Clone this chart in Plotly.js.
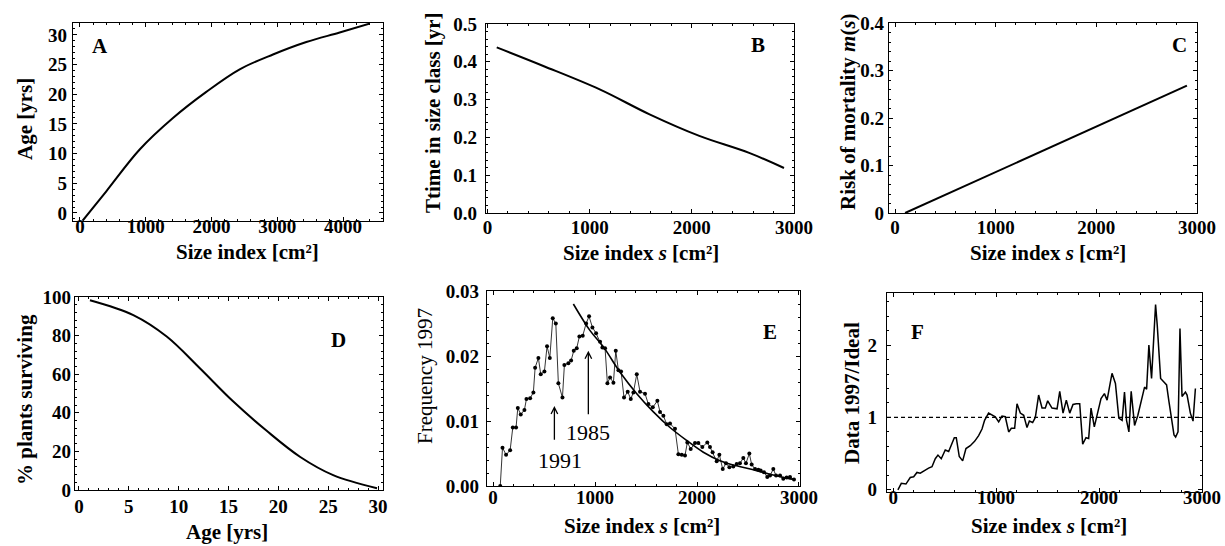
<!DOCTYPE html>
<html>
<head>
<meta charset="utf-8">
<script src="https://cdn.plot.ly/plotly-3.0.1.min.js"></script>
<style>html,body{margin:0;padding:0;background:#fff;}#chart{width:1225px;height:546px;}</style>
</head>
<body>
<div id="chart"></div>
<script>
// ---------- DATA ----------
// Panel A: age vs size
const A_size = [40, 400, 908, 1414, 1921, 2429, 2935, 3442, 3949, 4406];
const A_age  = [-1.3, 3.66, 10.7, 16.0, 20.4, 24.2, 26.7, 28.8, 30.4, 31.9];
// Panel B: time in size class
const B_size = [90, 546, 1098, 1586, 2073, 2561, 2902];
const B_time = [0.438, 0.389, 0.327, 0.261, 0.204, 0.159, 0.119];
// Panel C: risk of mortality
const C_size = [100, 1000, 2000, 2900];
const C_risk = [0, 0.086, 0.182, 0.268];
// Panel D: % plants surviving vs age
const D_age  = [1.1, 5.45, 8.8, 12.1, 15.4, 18.8, 22.2, 25.5, 29.9];
const D_surv = [98.3, 90.6, 79.5, 63.2, 46.2, 30.8, 17.1, 7.7, 0.9];
// Panel E: frequency 1997 (data) and ideal curve
const E_size = [70, 92, 127, 167, 193, 225, 242, 271, 307, 327, 363, 395, 412, 444, 467, 503, 529, 556, 585, 615,
  640, 680, 699, 738, 765, 791, 820, 846, 879, 912, 941, 974, 1010, 1049, 1072, 1098, 1121, 1147, 1180, 1203,
  1229, 1255, 1284, 1320, 1350, 1376, 1409, 1441, 1490, 1523, 1566, 1611, 1637, 1670, 1703, 1735, 1784, 1817,
  1850, 1882, 1905, 1938, 1980, 2013, 2052, 2101, 2127, 2153, 2193, 2219, 2252, 2284, 2317, 2356, 2389, 2421,
  2454, 2480, 2513, 2536, 2569, 2601, 2624, 2657, 2689, 2716, 2748, 2775, 2814, 2846, 2879, 2912, 2951];
const E_freq = [0, 0.0059, 0.0048, 0.0055, 0.0090, 0.0090, 0.0120, 0.0110, 0.0117, 0.0134, 0.0135, 0.0144, 0.0182,
  0.0197, 0.0172, 0.0176, 0.0215, 0.0197, 0.0258, 0.0250, 0.0158, 0.0136, 0.0186, 0.0189, 0.0193, 0.0208, 0.0212,
  0.0230, 0.0231, 0.0250, 0.0261, 0.0244, 0.0235, 0.0222, 0.0213, 0.0212, 0.0158, 0.0167, 0.0159, 0.0208, 0.0178,
  0.0176, 0.0136, 0.0145, 0.0134, 0.0144, 0.0172, 0.0145, 0.0142, 0.0126, 0.0121, 0.0131, 0.0114, 0.0108, 0.0095,
  0.0096, 0.0088, 0.0049, 0.0048, 0.0047, 0.0067, 0.0057, 0.0066, 0.0066, 0.0060, 0.0067, 0.0060, 0.0052, 0.0038,
  0.0048, 0.0026, 0.0035, 0.0029, 0.0030, 0.0034, 0.0035, 0.0043, 0.0035, 0.0050, 0.0033, 0.0026, 0.0025, 0.0024,
  0.0021, 0.0014, 0.0016, 0.0026, 0.0016, 0.0016, 0.0011, 0.0013, 0.0014, 0.0010];
const E_fit_size = [787, 951, 1082, 1245, 1409, 1572, 1735, 1899, 2062, 2225, 2389, 2552, 2716, 2912, 2960];
const E_fit_freq = [0.0280, 0.0239, 0.0214, 0.0175, 0.0142, 0.0114, 0.0090, 0.0070, 0.0052, 0.0039, 0.0031, 0.0025, 0.0018, 0.0011, 0.0010];
const E_labels = ['1991', '1985'];
const E_arrow_x = [601, 934];
const E_arrow_tail = [0.0069, 0.0108];
const E_arrow_tip = [0.0123, 0.0208];
// Panel F: data/ideal ratio
const F_size = [46, 79, 124, 166, 199, 231, 263, 305, 344, 377, 409, 435, 467, 506, 539, 594, 613, 642, 675, 707,
  749, 791, 830, 863, 888, 927, 960, 992, 1025, 1057, 1089, 1122, 1148, 1180, 1203, 1235, 1268, 1300, 1323, 1355,
  1381, 1413, 1446, 1478, 1501, 1543, 1592, 1618, 1650, 1682, 1715, 1747, 1779, 1812, 1841, 1873, 1899, 1922,
  1954, 1987, 2019, 2052, 2078, 2110, 2126, 2159, 2192, 2224, 2247, 2267, 2290, 2312, 2345, 2377, 2419, 2442,
  2462, 2484, 2510, 2549, 2565, 2598, 2630, 2656, 2679, 2728, 2744, 2767, 2786, 2806, 2839, 2855, 2887, 2913, 2936];
const F_ratio = [0, 0.09, 0.08, 0.17, 0.18, 0.24, 0.23, 0.27, 0.30, 0.32, 0.43, 0.48, 0.43, 0.55, 0.53, 0.72, 0.72,
  0.46, 0.40, 0.57, 0.61, 0.67, 0.75, 0.84, 0.96, 1.06, 1.03, 1.01, 0.94, 1.02, 1.01, 0.80, 0.85, 0.85, 1.19, 1.06,
  1.03, 0.86, 0.95, 0.93, 1.00, 1.31, 1.13, 1.13, 1.23, 1.13, 1.12, 1.36, 1.06, 1.24, 1.06, 1.18, 1.19, 1.19, 0.63,
  0.72, 0.71, 1.13, 0.87, 1.08, 1.26, 1.33, 1.24, 1.49, 1.61, 1.47, 0.99, 0.96, 1.35, 0.96, 0.80, 1.36, 0.89, 1.03,
  1.29, 1.42, 1.39, 2.00, 1.54, 2.56, 2.28, 1.54, 1.49, 1.45, 1.22, 0.76, 0.73, 0.80, 2.23, 1.29, 1.35, 1.31, 1.06,
  0.95, 1.40];
const F_ref_x = [-60, 3000];
const F_ref_y = [1, 1];
const panelLetters = ['A', 'B', 'C', 'D', 'E', 'F'];
const xTitles = ['Size index [cm²]', 'Size index <i>s</i> [cm²]', 'Size index <i>s</i> [cm²]',
  'Age [yrs]', 'Size index <i>s</i> [cm²]', 'Size index <i>s</i> [cm²]'];
const yTitles = ['Age [yrs]', 'Ttime in size class [yr]', 'Risk of mortality <i>m</i>(<i>s</i>)',
  '% plants surviving', 'Frequency 1997', 'Data 1997/Ideal'];

// ---------- LAYOUT ----------
const W = 1225, H = 546;
const boxes = [ // [left, right, top, bottom] in px
  [73, 383, 23, 221], [486, 794, 24, 213], [889, 1197, 23, 213],
  [75, 383, 297, 490], [487, 800, 291, 486], [887, 1202, 293, 492]
];
const TICK_FS = 19, TITLE_FS = 21;
const tickCenterY = [229, 230, 230, 509, 500, 500];          // desired label centres (px)
const yStandoff = [1, 4, 0, -1, 3, 5];
const xTitlePos = [[247, 252], [641, 253], [1048, 253], [227, 532], [642, 526], [1049, 526]];
const yTitlePos = [[25, 119], [433, 113], [848, 112], [25, 400], [425, 376], [852, 393]];
const letterPos = [[100, 46], [758, 45], [1179, 45], [338, 340], [770, 332], [917, 332]];

const FONT = '"Liberation Serif", "DejaVu Serif", serif';
const tickFont = {family: FONT, size: TICK_FS, color: '#000', weight: 'bold'};
const titleFont = {family: FONT, size: TITLE_FS, color: '#000', weight: 'bold'};

function axis(i, isX, range, dtick, extra) {
  const b = boxes[i];
  const dom = isX ? [b[0] / W, b[1] / W] : [1 - b[3] / H, 1 - b[2] / H];
  const ax = {
    domain: dom, range: range, dtick: dtick, tick0: 0,
    showgrid: false, zeroline: false, showline: true, linecolor: '#000', linewidth: 1.3,
    mirror: 'allticks', ticks: 'inside', ticklen: 4, tickwidth: 1, tickcolor: '#000',
    minor: {ticks: 'inside', ticklen: 2, tickwidth: 1, tickcolor: '#000', dtick: dtick / 5, showgrid: false},
    tickfont: tickFont, fixedrange: true,
    ticklabelstandoff: isX ? Math.round(tickCenterY[i] - (b[3] + 1 + TICK_FS)) : yStandoff[i]
  };
  ax.anchor = (isX ? 'y' : 'x') + (i === 0 ? '' : (i + 1));
  return Object.assign(ax, extra || {});
}

const layout = {
  width: W, height: H, margin: {l: 0, r: 0, t: 0, b: 0},
  paper_bgcolor: '#fff', plot_bgcolor: '#fff', showlegend: false,
  font: {family: FONT},
  xaxis:  axis(0, true, [-106, 4608], 1000),
  yaxis:  axis(0, false, [-1.35, 32], 5),
  xaxis2: axis(1, true, [-15, 3000], 1000),
  yaxis2: axis(1, false, [0, 0.5], 0.1, {tickformat: '.1f'}),
  xaxis3: axis(2, true, [-60, 3000], 1000),
  yaxis3: axis(2, false, [0, 0.4], 0.1),
  xaxis4: axis(3, true, [-0.4, 30.5], 5),
  yaxis4: axis(3, false, [0, 100], 20),
  xaxis5: axis(4, true, [-60, 3010], 1000),
  yaxis5: axis(4, false, [0, 0.03], 0.01, {tickformat: '.2f'}),
  xaxis6: axis(5, true, [-60, 3000], 1000),
  yaxis6: axis(5, false, [-0.03, 2.72], 1),
  annotations: []
};

const paperAnn = (p, text, font, extra) => Object.assign({
  xref: 'paper', yref: 'paper', x: p[0] / W, y: 1 - p[1] / H, text: text, showarrow: false,
  xanchor: 'center', yanchor: 'middle', font: font
}, extra || {});

for (let i = 0; i < 6; i++) {
  layout.annotations.push(paperAnn(xTitlePos[i], xTitles[i], titleFont));
  const yf = Object.assign({}, titleFont);
  if (i === 4) yf.weight = 'normal';
  layout.annotations.push(paperAnn(yTitlePos[i], yTitles[i], yf, {textangle: -90}));
  layout.annotations.push(paperAnn(letterPos[i], panelLetters[i], {family: FONT, size: 21, color: '#000', weight: 'bold'}));
}
// E arrows and labels
const E_text_pos = [[657, 0.0039], [934, 0.0082]];
E_labels.forEach((t, i) => {
  layout.annotations.push({
    xref: 'x5', yref: 'y5', axref: 'x5', ayref: 'y5',
    x: E_arrow_x[i], y: E_arrow_tip[i], ax: E_arrow_x[i], ay: E_arrow_tail[i],
    text: '', showarrow: true, arrowhead: 5, arrowsize: 1, arrowwidth: 1.3, arrowcolor: '#000'
  });
  layout.annotations.push({
    xref: 'x5', yref: 'y5', x: E_text_pos[i][0], y: E_text_pos[i][1], text: t, showarrow: false,
    font: {family: FONT, size: 22, color: '#000'}
  });
});

const line = (w) => ({color: '#000', width: w});
const traces = [
  {x: A_size, y: A_age, xaxis: 'x', yaxis: 'y', mode: 'lines', line: Object.assign(line(2), {shape: 'spline'})},
  {x: B_size, y: B_time, xaxis: 'x2', yaxis: 'y2', mode: 'lines', line: Object.assign(line(2), {shape: 'spline'})},
  {x: C_size, y: C_risk, xaxis: 'x3', yaxis: 'y3', mode: 'lines', line: line(2)},
  {x: D_age, y: D_surv, xaxis: 'x4', yaxis: 'y4', mode: 'lines', line: Object.assign(line(2), {shape: 'spline'})},
  {x: E_size, y: E_freq, xaxis: 'x5', yaxis: 'y5', mode: 'lines+markers', line: line(0.8), marker: {size: 4, color: '#000'}},
  {x: E_fit_size, y: E_fit_freq, xaxis: 'x5', yaxis: 'y5', mode: 'lines', line: Object.assign(line(1.6), {shape: 'spline'})},
  {x: F_ref_x, y: F_ref_y, xaxis: 'x6', yaxis: 'y6', mode: 'lines', line: Object.assign(line(1.3), {dash: '4px,3px'})},
  {x: F_size, y: F_ratio, xaxis: 'x6', yaxis: 'y6', mode: 'lines', line: line(1.5)}
];

Plotly.newPlot('chart', traces, layout, {staticPlot: true, displayModeBar: false});
</script>
</body>
</html>
